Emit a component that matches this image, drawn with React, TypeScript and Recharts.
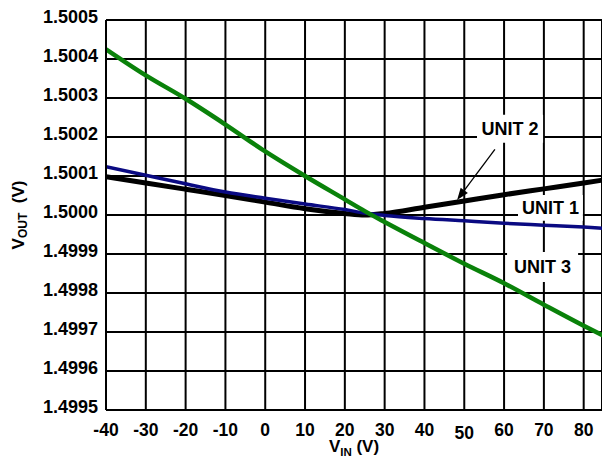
import React from "react";
import {
  LineChart,
  Line,
  XAxis,
  YAxis,
  CartesianGrid,
  ReferenceArea,
  ReferenceLine,
  Label,
} from "recharts";

// input voltage sweep (V)
const vin = [-40, -30, -20, -10, 0, 10, 20, 25, 30, 40, 50, 60, 70, 80, 85];

// output voltage per unit (V)
const unit1 = [
  1.500124, 1.500102, 1.50008, 1.500059, 1.500043, 1.500028, 1.500014, 1.500005,
  1.499999, 1.499991, 1.499985, 1.499979, 1.499974, 1.499969, 1.499966,
];
const unit2 = [
  1.500098, 1.500082, 1.500066, 1.50005, 1.500033, 1.500016, 1.500004, 1.5,
  1.500004, 1.50002, 1.500036, 1.500052, 1.500067, 1.500082, 1.50009,
];
const unit3 = [
  1.500425, 1.500358, 1.500298, 1.500232, 1.500163, 1.5001, 1.50004, 1.50001,
  1.499982, 1.499928, 1.499875, 1.499825, 1.49977, 1.499716, 1.49969,
];

const xTicks = [-40, -30, -20, -10, 0, 10, 20, 30, 40, 50, 60, 70, 80];
const yTicks = [
  1.4995, 1.4996, 1.4997, 1.4998, 1.4999, 1.5, 1.5001, 1.5002, 1.5003, 1.5004, 1.5005,
];

const data = vin.map((v, i) => ({
  vin: v,
  unit1: unit1[i],
  unit2: unit2[i],
  unit3: unit3[i],
}));

const FONT = "'Liberation Sans', Arial, Helvetica, sans-serif";

const XTick = ({ x, y, payload }: any) => (
  <text
    x={x}
    y={y + (payload.value === 50 ? 29 : 26)}
    textAnchor="middle"
    fontFamily={FONT}
    fontWeight="bold"
    fontSize={17.5}
    fill="#000"
  >
    {payload.value}
  </text>
);

const YTick = ({ x, y, payload }: any) => (
  <text
    x={x}
    y={y + 3}
    textAnchor="end"
    fontFamily={FONT}
    fontWeight="bold"
    fontSize={18}
    fill="#000"
  >
    {Number(payload.value).toFixed(4)}
  </text>
);

const XTitle = ({ viewBox }: any) => (
  <text
    x={viewBox.x + viewBox.width / 2}
    y={452}
    textAnchor="middle"
    fontFamily={FONT}
    fontWeight="bold"
    fontSize={17}
    fill="#000"
  >
    <tspan>V</tspan>
    <tspan fontSize={11.5} dy={3.5}>IN</tspan>
    <tspan dy={-3.5}> (V)</tspan>
  </text>
);

const YTitle = () => (
  <text
    x={24}
    y={215}
    transform="rotate(-90, 24, 215)"
    textAnchor="middle"
    fontFamily={FONT}
    fontWeight="bold"
    fontSize={17}
    fill="#000"
  >
    <tspan>V</tspan>
    <tspan fontSize={12} dy={3}>OUT</tspan>
    <tspan dy={-3} xmlSpace="preserve">{"  (V)"}</tspan>
  </text>
);

// leader arrow from the UNIT 2 tag down to its curve
const Arrow = ({ x1, y1, x2, y2 }: any) => {
  const ang = Math.atan2(y2 - y1, x2 - x1);
  const len = 12;
  const w = 4.5;
  const bx = x2 - len * Math.cos(ang);
  const by = y2 - len * Math.sin(ang);
  const px = -Math.sin(ang) * w;
  const py = Math.cos(ang) * w;
  return (
    <g>
      <line x1={x1} y1={y1} x2={bx} y2={by} stroke="#000" strokeWidth={1.3} />
      <polygon
        points={`${x2},${y2} ${bx + px},${by + py} ${bx - px},${by - py}`}
        fill="#000"
      />
    </g>
  );
};

const tagLabel = (value: string) => ({
  value,
  position: "center" as const,
  fill: "#000",
  fontSize: 18,
  fontWeight: "bold",
  fontFamily: FONT,
});

export default function App() {
  return (
    <div style={{ position: "absolute", left: 0, top: 0, background: "#fff" }}>
      <LineChart
        width={602}
        height={460}
        data={data}
        margin={{ top: 20, right: 0, bottom: 0, left: 0 }}
      >
        <CartesianGrid stroke="#000" strokeWidth={2} />
        <XAxis
          dataKey="vin"
          type="number"
          domain={[-40, 84.6]}
          ticks={xTicks}
          allowDataOverflow
          height={50}
          tickSize={0}
          tickMargin={0}
          tick={<XTick />}
          axisLine={{ stroke: "#000", strokeWidth: 2 }}
          tickLine={false}
          interval={0}
        >
          <Label content={<XTitle />} />
        </XAxis>
        <YAxis
          type="number"
          domain={[1.4995, 1.5005]}
          ticks={yTicks}
          allowDataOverflow
          width={106}
          tickSize={0}
          tickMargin={8}
          tick={<YTick />}
          axisLine={{ stroke: "#000", strokeWidth: 2 }}
          tickLine={false}
          interval={0}
        >
          <Label content={<YTitle />} />
        </YAxis>

        <ReferenceArea
          x1={53.2}
          x2={69.8}
          y1={1.500185}
          y2={1.500257}
          fill="#fff"
          fillOpacity={1}
          stroke="none"
          ifOverflow="visible"
          label={tagLabel("UNIT 2")}
        />
        <ReferenceArea
          x1={63.5}
          x2={79.8}
          y1={1.499985}
          y2={1.500051}
          fill="#fff"
          fillOpacity={1}
          stroke="none"
          ifOverflow="visible"
          label={tagLabel("UNIT 1")}
        />
        <ReferenceArea
          x1={60.75}
          x2={78.6}
          y1={1.499828}
          y2={1.499905}
          fill="#fff"
          fillOpacity={1}
          stroke="none"
          ifOverflow="visible"
          label={tagLabel("UNIT 3")}
        />
        <ReferenceLine
          segment={[
            { x: 57.7, y: 1.5001685 },
            { x: 48.2, y: 1.5000386 },
          ]}
          ifOverflow="visible"
          shape={<Arrow />}
        />

        <Line
          dataKey="unit2"
          type="monotone"
          stroke="#000"
          strokeWidth={5}
          dot={false}
          isAnimationActive={false}
        />
        <Line
          dataKey="unit1"
          type="monotone"
          stroke="#0a0a82"
          strokeWidth={3.5}
          dot={false}
          isAnimationActive={false}
        />
        <Line
          dataKey="unit3"
          type="monotone"
          stroke="#0a820a"
          strokeWidth={4.5}
          dot={false}
          isAnimationActive={false}
        />
      </LineChart>
    </div>
  );
}
